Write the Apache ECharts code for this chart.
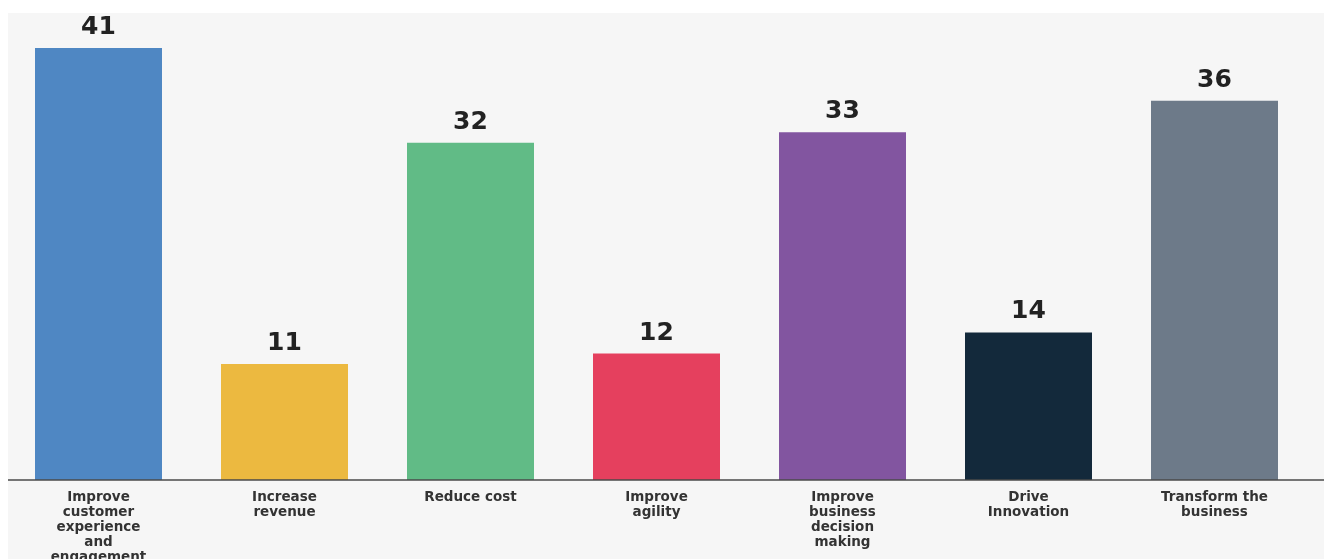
<!DOCTYPE html>
<html>
<head>
<meta charset="utf-8">
<style>
  html, body { margin: 0; padding: 0; background: #ffffff; }
  #chart { width: 1324px; height: 559px; }
</style>
<script src="https://cdn.jsdelivr.net/npm/echarts@6/dist/echarts.min.js"></script>
</head>
<body>
<div id="chart"></div>
<script>
// Survey responses: business goals of the initiative
const categories = [
  'Improve\ncustomer\nexperience\nand\nengagement',
  'Increase\nrevenue',
  'Reduce cost',
  'Improve\nagility',
  'Improve\nbusiness\ndecision\nmaking',
  'Drive\nInnovation',
  'Transform the\nbusiness'
];
const values = [41, 11, 32, 12, 33, 14, 36];
const barColors = ['#4f87c3', '#ecb940', '#61bb86', '#e5405e', '#8255a0', '#13293b', '#6d7a89'];

const FONT = '"DejaVu Sans", Verdana, sans-serif';

const chart = echarts.init(document.getElementById('chart'), null, { renderer: 'canvas' });

chart.setOption({
  backgroundColor: '#ffffff',
  animation: false,
  grid: {
    left: 5.5, right: 16.5, top: 48, bottom: 79,
    containLabel: false,
    outerBoundsMode: 'none'
  },
  xAxis: {
    type: 'category',
    data: categories,
    axisTick: { show: false },
    axisLine: { show: false },
    axisLabel: {
      interval: 0,
      margin: 10,
      color: '#333333',
      fontFamily: FONT,
      fontWeight: 'bold',
      fontSize: 13.5,
      lineHeight: 15,
      align: 'center',
      verticalAlign: 'top'
    }
  },
  yAxis: {
    type: 'value',
    min: 0,
    max: 41,
    show: false,
    splitLine: { show: false }
  },
  series: [{
    type: 'bar',
    data: values.map((v, i) => ({ value: v, itemStyle: { color: barColors[i] } })),
    barWidth: 127,
    label: {
      show: true,
      position: 'top',
      distance: 8,
      color: '#222222',
      fontFamily: FONT,
      fontWeight: 'bold',
      fontSize: 25
    }
  }]
});

// Light panel behind the plot, and the baseline drawn across its full width
const baseY = chart.convertToPixel({ yAxisIndex: 0 }, 0);
chart.setOption({
  graphic: [
    {
      type: 'rect', z: -10, silent: true,
      shape: { x: 8, y: 13, width: 1316, height: 546 },
      style: { fill: '#f6f6f6' }
    },
    {
      type: 'line', z: 5, silent: true,
      shape: { x1: 8, y1: baseY, x2: 1324, y2: baseY },
      style: { stroke: '#4a4a4a', lineWidth: 1.5 }
    }
  ]
});
</script>
</body>
</html>
